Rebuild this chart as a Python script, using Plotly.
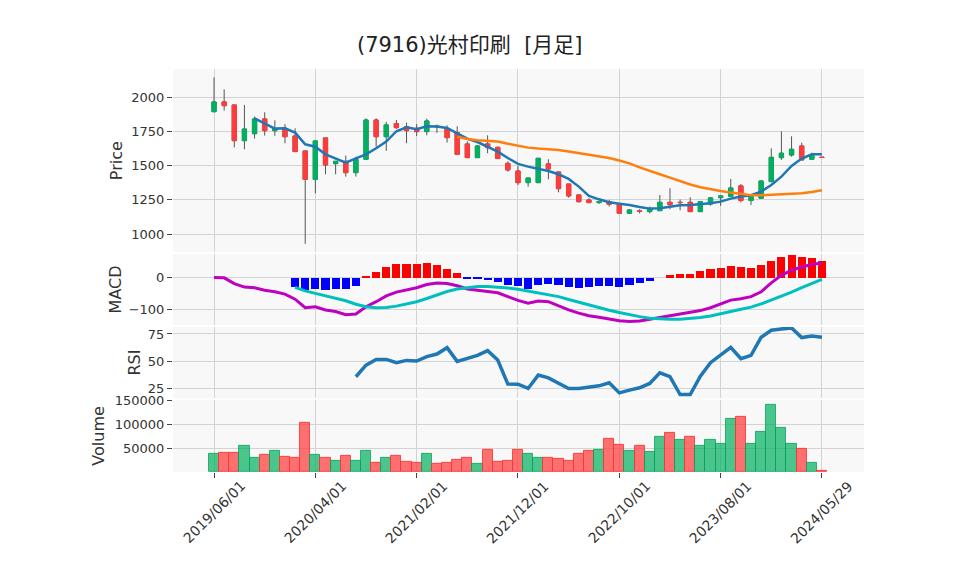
import pandas as pd
import plotly.graph_objects as go

# ---------------- data ----------------
months = [d.strftime("%Y/%m/%d") for d in pd.date_range("2019-06-01", periods=60, freq="MS")]
dates = months + ["2024/05/29"]

opens = [1895, 1966, 1944, 1683, 1734, 1842, 1756, 1773, 1717, 1608,
         1400, 1703, 1515, 1532, 1449, 1547, 1834, 1712, 1808, 1786,
         1773, 1749, 1790, 1771, 1742, 1659, 1559, 1659, 1634, 1517,
         1461, 1376, 1376, 1513, 1454, 1366, 1286, 1249, 1230, 1237,
         1218, 1152, 1169, 1164, 1171, 1232, 1232, 1232, 1164, 1220,
         1266, 1276, 1352, 1245, 1262, 1383, 1559, 1578, 1644, 1547,
         1562]
highs = [2146, 2058, 1944, 1944, 1859, 1890, 1832, 1803, 1773, 1608,
         1681, 1703, 1532, 1574, 1566, 1846, 1846, 1820, 1834, 1815,
         1803, 1844, 1800, 1795, 1788, 1678, 1650, 1722, 1640, 1532,
         1498, 1410, 1554, 1547, 1454, 1366, 1291, 1262, 1245, 1250,
         1218, 1181, 1181, 1201, 1286, 1335, 1252, 1269, 1242, 1271,
         1286, 1403, 1366, 1274, 1393, 1627, 1751, 1715, 1668, 1595,
         1562]
lows = [1890, 1903, 1634, 1620, 1698, 1720, 1719, 1664, 1603, 928,
        1298, 1437, 1437, 1420, 1420, 1547, 1639, 1608, 1770, 1664,
        1717, 1722, 1740, 1669, 1583, 1559, 1559, 1591, 1552, 1457,
        1359, 1347, 1376, 1400, 1305, 1266, 1230, 1225, 1220, 1201,
        1152, 1145, 1152, 1152, 1171, 1181, 1174, 1164, 1164, 1208,
        1206, 1276, 1232, 1213, 1262, 1383, 1542, 1566, 1542, 1547,
        1558]
closes = [1966, 1939, 1683, 1768, 1842, 1756, 1770, 1712, 1603, 1400,
          1681, 1505, 1532, 1449, 1547, 1834, 1712, 1798, 1778, 1756,
          1749, 1827, 1785, 1705, 1583, 1559, 1644, 1632, 1552, 1469,
          1376, 1410, 1554, 1476, 1332, 1279, 1237, 1230, 1237, 1218,
          1152, 1176, 1166, 1184, 1232, 1215, 1230, 1164, 1237, 1264,
          1279, 1337, 1245, 1274, 1388, 1561, 1591, 1620, 1542, 1576,
          1560]

ma_short = [None, None, None, None, 1846, 1810, 1771, 1773, 1742, 1656,
            1639, 1583, 1552, 1522, 1554, 1583, 1627, 1676, 1752, 1781,
            1766, 1788, 1786, 1776, 1737, 1698, 1673, 1639, 1603, 1556,
            1513, 1493, 1478, 1461, 1437, 1403, 1347, 1279, 1254, 1232,
            1222, 1213, 1198, 1186, 1188, 1201, 1210, 1213, 1218, 1225,
            1237, 1259, 1274, 1284, 1310, 1359, 1420, 1498, 1552, 1583,
            1583]
ma_long = [None] * 24 + [1712, 1695, 1686, 1683, 1676, 1661,
                         1644, 1632, 1625, 1622, 1615, 1603, 1591, 1581, 1571, 1556,
                         1538, 1517, 1488, 1461, 1437, 1413, 1386, 1362, 1342, 1327,
                         1315, 1303, 1293, 1284, 1284, 1288, 1293, 1296, 1298, 1308,
                         1320]

macd = [0, -1, -19, -30, -32, -40, -45, -52, -68, -95,
        -92, -102, -107, -117, -115, -92, -76, -58, -46, -39,
        -32, -22, -17, -19, -26, -36, -40, -42, -48, -60,
        -72, -81, -74, -76, -90, -102, -112, -120, -125, -130,
        -136, -138, -137, -131, -126, -120, -115, -111, -104, -95,
        -84, -71, -67, -60, -45, -17, 7, 23, 33, 41,
        46]
signal = [None] * 8 + [-31, -42,
                       -50, -58, -66, -73, -84, -92, -95, -94, -90, -83,
                       -76, -66, -55, -44, -36, -31, -28, -28, -30, -33,
                       -37, -43, -48, -53, -60, -69, -78, -86, -96, -103,
                       -110, -117, -123, -128, -130, -131, -131, -129, -126, -121,
                       -115, -107, -100, -93, -83, -71, -58, -46, -32, -19,
                       -6]
hist = [None] * 8 + [-31, -40,
                     -36, -40, -36, -36, -26, 4, 17, 32, 42, 42,
                     42, 45, 39, 26, 14, -2, -5, -7, -14, -24,
                     -27, -36, -22, -20, -23, -31, -32, -31, -28, -26,
                     -29, -22, -17, -10, 0, 7, 12, 12, 20, 26,
                     29, 35, 32, 29, 39, 51, 64, 70, 65, 60,
                     51]

rsi = [None] * 14 + [36, 46.6, 51.8, 51.8, 48.8, 50.9,
                     50.3, 54.3, 56.7, 62.5, 50, 52.7, 55.5, 59.8, 51.2, 29.3,
                     29.2, 25.3, 37.5, 35, 30.5, 25.3, 25.3, 26.2, 27.7, 30.5,
                     21.3, 23.8, 25.9, 29.9, 39.6, 36, 19.8, 19.8, 36.6, 48.8,
                     55.8, 62.8, 52.4, 55.5, 72, 78.4, 79.6, 80.5, 71.7, 73.2,
                     72]

volume = [37500, 39600, 39600, 54100, 29100, 35400, 43700, 31200, 29100, 102000,
          35400, 28500, 22900, 33300, 22900, 43700, 18700, 29100, 33300, 20800,
          18700, 37500, 16700, 18700, 25000, 29100, 16700, 45800, 20800, 22900,
          45800, 37500, 29100, 29100, 27100, 22900, 37500, 43700, 45800, 68700,
          56200, 43700, 54100, 41600, 72900, 81200, 66600, 72900, 54100, 66600,
          58300, 110300, 114500, 58300, 83300, 139500, 91600, 58300, 47900, 18700,
          2100]

tick_labels = ["2019/06/01", "2020/04/01", "2021/02/01", "2021/12/01",
               "2022/10/01", "2023/08/01", "2024/05/29"]

# ---------------- styling ----------------
GREEN = "#00B060"
RED = "#FF3B3B"
FONT = "DejaVu Sans, Noto Sans CJK JP, sans-serif"
GRID = "#D3D3D3"
BG = "#F8F8F8"

x = list(range(len(dates)))
tickvals = [dates.index(t) for t in tick_labels]

body_hi = [max(o, c) for o, c in zip(opens, closes)]
body_lo = [min(o, c) for o, c in zip(opens, closes)]

vol_up = [True] + [closes[i] >= closes[i - 1] for i in range(1, len(closes))]
vol_fill = ["rgba(0,176,96,0.7)" if u else "rgba(255,59,59,0.72)" for u in vol_up]
vol_line = ["rgba(0,160,90,0.75)" if u else "rgba(255,50,50,0.85)" for u in vol_up]
hist_colors = ["#0000FF" if (h is not None and h < 0) else "#FF0000" for h in hist]

fig = go.Figure()

# wicks
fig.add_trace(go.Candlestick(
    x=x, open=opens, high=highs, low=lows, close=closes,
    increasing=dict(line=dict(color="#555555", width=1), fillcolor="rgba(0,0,0,0)"),
    decreasing=dict(line=dict(color="#555555", width=1), fillcolor="rgba(0,0,0,0)"),
    xaxis="x", yaxis="y", showlegend=False, hoverinfo="skip"))
# bodies
fig.add_trace(go.Candlestick(
    x=x, open=opens, high=body_hi, low=body_lo, close=closes,
    increasing=dict(line=dict(color=GREEN, width=1), fillcolor=GREEN),
    decreasing=dict(line=dict(color=RED, width=1), fillcolor=RED),
    xaxis="x", yaxis="y", showlegend=False))
fig.add_trace(go.Scatter(x=x, y=ma_short, mode="lines", line=dict(color="#1f77b4", width=2.5),
                         xaxis="x", yaxis="y", showlegend=False))
fig.add_trace(go.Scatter(x=x, y=ma_long, mode="lines", line=dict(color="#ff7f0e", width=2.5),
                         xaxis="x", yaxis="y", showlegend=False))

# MACD
fig.add_trace(go.Bar(x=x, y=hist, marker=dict(color=hist_colors, line=dict(width=0)),
                     width=0.8, xaxis="x2", yaxis="y2", showlegend=False))
fig.add_trace(go.Scatter(x=x, y=macd, mode="lines", line=dict(color="#BF00BF", width=3),
                         xaxis="x2", yaxis="y2", showlegend=False))
fig.add_trace(go.Scatter(x=x, y=signal, mode="lines", line=dict(color="#00BFBF", width=3),
                         xaxis="x2", yaxis="y2", showlegend=False))

# RSI
fig.add_trace(go.Scatter(x=x, y=rsi, mode="lines", line=dict(color="#1f77b4", width=3.5),
                         xaxis="x3", yaxis="y3", showlegend=False))

# Volume
fig.add_trace(go.Bar(x=x, y=volume, marker=dict(color=vol_fill, line=dict(color=vol_line, width=1)),
                     width=1, xaxis="x4", yaxis="y4", showlegend=False))

XR = [-4.05, 64.15]
xcommon = dict(range=XR, showgrid=True, gridcolor=GRID, gridwidth=1, tickvals=tickvals,
               zeroline=False, showline=False)
ycommon = dict(showgrid=True, gridcolor=GRID, gridwidth=1, zeroline=False, showline=False,
               ticks="outside", ticklen=5, tickcolor="#444")

# rotated date labels, centred under their ticks
annotations = [dict(x=tv, y=0, xref="x4", yref="paper", text=lab, showarrow=False,
                    textangle=-45, xanchor="center", yanchor="top", yshift=-3,
                    font=dict(family=FONT, size=14, color="#333"))
               for tv, lab in zip(tickvals, tick_labels)]

fig.update_layout(
    width=958, height=575,
    margin=dict(l=165, r=102, t=61, b=111),
    paper_bgcolor="white", plot_bgcolor=BG,
    font=dict(family=FONT, size=13, color="#333"),
    title=dict(text="(7916)光村印刷  [月足]", x=0.482, xanchor="center", y=0.936, yanchor="middle",
               font=dict(size=21, family=FONT, color="#222")),
    boxgap=0.4,
    bargap=0,
    annotations=annotations,
    xaxis=dict(**xcommon, anchor="y", showticklabels=False, rangeslider=dict(visible=False)),
    xaxis2=dict(**xcommon, anchor="y2", matches="x", showticklabels=False),
    xaxis3=dict(**xcommon, anchor="y3", matches="x", showticklabels=False),
    xaxis4=dict(**xcommon, anchor="y4", matches="x", showticklabels=False,
                ticks="outside", ticklen=5, tickcolor="#444"),
    yaxis=dict(**ycommon, domain=[0.545, 1.0], anchor="x", range=[866, 2207],
               tickvals=[1000, 1250, 1500, 1750, 2000], title=dict(text="Price", standoff=4)),
    yaxis2=dict(**ycommon, domain=[0.365, 0.541], anchor="x2", range=[-149, 74],
                tickvals=[-100, 0], title=dict(text="MACD", standoff=3)),
    yaxis3=dict(**ycommon, domain=[0.183, 0.36], anchor="x3", range=[16.4, 81.4],
                tickvals=[25, 50, 75], title=dict(text="RSI", standoff=3)),
    yaxis4=dict(**ycommon, domain=[0.0, 0.179], anchor="x4", range=[0, 150500],
                tickvals=[50000, 100000, 150000], tickformat="d",
                title=dict(text="Volume", standoff=6)),
)

fig.write_html("out.html")
